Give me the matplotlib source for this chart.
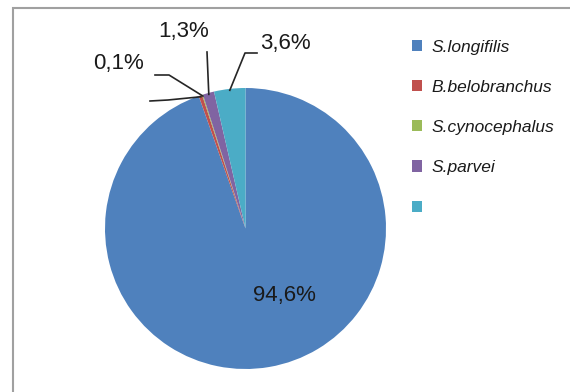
import numpy as np
import matplotlib
matplotlib.use("Agg")
import matplotlib.pyplot as plt
from matplotlib.patches import Rectangle

matplotlib.rcParams["font.family"] = ["Liberation Sans", "DejaVu Sans"]

# species shares (%), clockwise from 12 o'clock
species = ["S.longifilis", "B.belobranchus", "S.cynocephalus", "S.parvei", ""]
shares = [94.6, 0.4, 0.1, 1.3, 3.6]
labels = ["94,6%", "", "0,1%", "1,3%", "3,6%"]
colors = ["#4F81BD", "#C0504D", "#9BBB59", "#8064A2", "#4BACC6"]

W, H = 570, 392
CX, CY, R = 245.5, 228.5, 140.5


def px(x, y):
    """pixel position -> pie data coords"""
    return (x - CX) / R, (CY - y) / R


# label text centres and leader elbows, in pixels (layout only)
TEXT_POS = {0: (284, 296), 2: (119, 64), 3: (184, 32), 4: (285, 43)}
ELBOWS = {
    1: [(150, 101), (168, 100)],
    2: [(155, 75), (169, 75)],
    3: [(207, 52)],
    4: [(257, 53), (245, 53)],
}

fig = plt.figure(figsize=(W / 100, H / 100), dpi=100)
fig.patch.set_facecolor("white")
fig.add_artist(Rectangle((13 / W, -0.1), 1.2, (H - 8.5) / H + 0.1,
                         transform=fig.transFigure, fill=False,
                         edgecolor="#a0a0a0", linewidth=1.5))

ax = fig.add_axes([(CX - R) / W, (H - CY - R) / H, 2 * R / W, 2 * R / H])
wedges, _ = ax.pie(shares, colors=colors, startangle=90, counterclock=False,
                   radius=1.0, wedgeprops=dict(linewidth=0))
ax.set_xlim(-1, 1)
ax.set_ylim(-1, 1)
ax.set_aspect("auto")
ax.axis("off")

for i, w in enumerate(wedges):
    if i in ELBOWS:
        mid = np.radians((w.theta1 + w.theta2) / 2)
        pts = [px(*p) for p in ELBOWS[i]] + [(np.cos(mid) * 0.99, np.sin(mid) * 0.99)]
        xs, ys = zip(*pts)
        ax.plot(xs, ys, color="#262626", linewidth=1.2, clip_on=False)
    if i in TEXT_POS and labels[i]:
        tx, ty = px(*TEXT_POS[i])
        ax.text(tx, ty, labels[i], ha="center", va="center", fontsize=16,
                color="#1a1a1a", clip_on=False)

leg = fig.legend(wedges, species, loc="upper left",
                 bbox_to_anchor=(396 / W, 1 - 24 / H), frameon=False,
                 prop=dict(style="italic", size=12.5), handlelength=0.62,
                 handleheight=0.62, handletextpad=0.55, labelspacing=1.45)
for t in leg.get_texts():
    t.set_color("#1a1a1a")

fig.savefig("out.png", dpi=100)
